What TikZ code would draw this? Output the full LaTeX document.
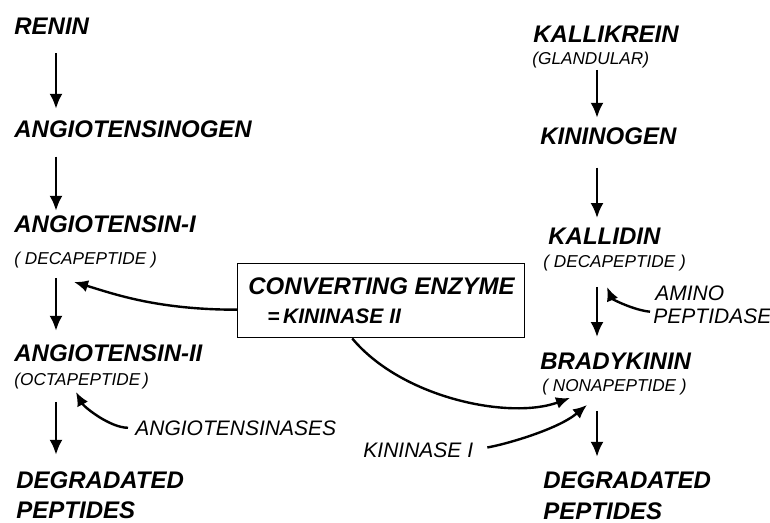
\documentclass[tikz,border=0pt]{standalone}
\usepackage{fontspec}
\newfontfamily\labelfont{Liberation Sans}
\usetikzlibrary{arrows.meta}

\begin{document}
\begin{tikzpicture}[x=0.5pt,y=-0.5pt,
    main/.style={font=\labelfont\bfseries\itshape\fontsize{12}{14}\selectfont, anchor=base west, inner sep=0pt},
    sub/.style={font=\labelfont\itshape\fontsize{8.6}{10}\selectfont, anchor=base west, inner sep=0pt},
    enz/.style={font=\labelfont\itshape\fontsize{10.5}{12}\selectfont, anchor=base west, inner sep=0pt},
    flow/.style={line width=1.3pt, -{Latex[length=7.5pt,width=6.5pt]}},
    act/.style={line width=1.2pt, -{Latex[length=7pt,width=6pt]}}]

    % Fix the page to the reference size
    \useasboundingbox (0,0) rectangle (770,523);

    % Column positions of the vertical arrows
    \coordinate (colL) at (56,0);
    \coordinate (colR) at (597,0);

    % Renin - angiotensin chain (left)
    \node[main] (renin) at (14,35)  {RENIN};
    \node[main] (agen)  at (14,138) {ANGIOTENSINOGEN};
    \node[main] (ang1)  at (14,233) {ANGIOTENSIN-I};
    \node[sub]  (deca1) at (14,265) {( DECAPEPTIDE )};
    \node[main] (ang2)  at (14,362) {ANGIOTENSIN-II};
    \node[sub]  (octa)  at (14,385) {(OCTAPEPTIDE\,)};
    \node[main] (degrL) at (16,488) {DEGRADATED};
    \node[main] (peptL) at (16,518) {PEPTIDES};

    % Kallikrein - kinin chain (right)
    \node[main] (kall)  at (533,43)  {KALLIKREIN};
    \node[sub]  (gland) at (532,65)  {(GLANDULAR)};
    \node[main] (kinog) at (540,145) {KININOGEN};
    \node[main] (kalld) at (548,245) {KALLIDIN};
    \node[sub]  (deca2) at (543,268) {( DECAPEPTIDE )};
    \node[main] (brady) at (540,370) {BRADYKININ};
    \node[sub]  (nona)  at (542,391) {( NONAPEPTIDE )};
    \node[main] (degrR) at (543,488) {DEGRADATED};
    \node[main] (peptR) at (543,519) {PEPTIDES};

    % Enzymes
    \node[enz] (asin)  at (135,435) {ANGIOTENSINASES};
    \node[enz] (kin1)  at (363,457) {KININASE I};
    \node[enz] (amino) at (655,300) {AMINO};
    \node[enz] (pepd)  at (653,323) {PEPTIDASE};

    % Converting enzyme box
    \node[draw, line width=0.7pt, anchor=north west, minimum width=143.5pt, minimum height=37pt, inner sep=0pt] (conv) at (237,263) {};
    \node[main] (convA) at (248,295) {CONVERTING ENZYME};
    \node[main, font=\labelfont\bfseries\itshape\fontsize{10.5}{12}\selectfont] (convB) at (267,324) {=\,KININASE II};

    % Vertical steps, left
    \draw[flow, shorten <=9pt, shorten >=6pt]   (renin.south -| colL) -- (agen.north -| colL);
    \draw[flow, shorten <=9pt, shorten >=2.5pt] (agen.south -| colL)  -- (ang1.north -| colL);
    \draw[flow, shorten <=4.5pt, shorten >=7pt] (deca1.south -| colL) -- (ang2.north -| colL);
    \draw[flow, shorten <=6.5pt, shorten >=8pt] (octa.south -| colL)  -- (degrL.north -| colL);

    % Vertical steps, right
    \draw[flow, shorten <=0.5pt, shorten >=5pt] (gland.south -| colR) -- (kinog.north -| colR);
    \draw[flow, shorten <=11pt, shorten >=5pt]  (kinog.south -| colR) -- (kalld.north -| colR);
    \draw[flow, shorten <=7.5pt, shorten >=8pt] (deca2.south -| colR) -- (brady.north -| colR);
    \draw[flow, shorten <=8pt, shorten >=7pt]   (nona.south -| colR)  -- (degrR.north -| colR);

    % Enzyme actions
    \draw[act] ([yshift=-4.5pt]conv.west) .. controls +(-80,0) and +(40,12) .. ([shift={(60,13)}]deca1.south west);
    \draw[act] ([xshift=-14.5pt]conv.south) .. controls +(50,60) and +(-60,22) .. ([shift={(28,3)}]nona.south west);
    \draw[act, shorten <=3.5pt] (asin.west) .. controls +(-25,0) and +(8,15) .. ([shift={(62,3)}]octa.south west);
    \draw[act, shorten <=7pt] (kin1.east) .. controls +(30,-5) and +(-30,25) .. ([shift={(45,10)}]nona.south west);
    \draw[act, shorten <=1.5pt] (pepd.west |- 0,312) .. controls +(-20,-2) and +(5,12) .. ([shift={(64,15)}]deca2.south west);

\end{tikzpicture}
\end{document}
